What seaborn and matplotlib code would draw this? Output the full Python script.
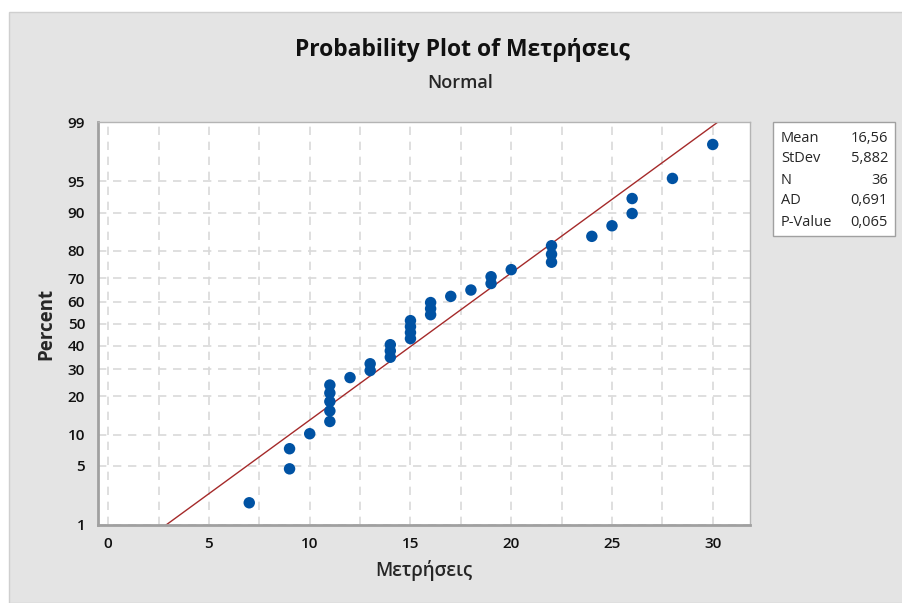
import seaborn as sns
import matplotlib.pyplot as plt
from matplotlib.patches import Rectangle
import pandas as pd
import numpy as np
from statistics import NormalDist

measurements = [7, 9, 9, 10, 11, 11, 11, 11, 11, 12, 13, 13, 14, 14, 14,
                15, 15, 15, 15, 16, 16, 16, 17, 18, 19, 19, 20,
                22, 22, 22, 24, 25, 26, 26, 28, 30]
percent_ticks = [1, 5, 10, 20, 30, 40, 50, 60, 70, 80, 90, 95, 99]
x_ticks = [0, 5, 10, 15, 20, 25, 30]
ad_value = "0,691"
p_value = "0,065"

nd = NormalDist()
n = len(measurements)
# median rank plotting positions
ranks = np.arange(1, n + 1)
probs = (ranks - 0.3) / (n + 0.4)
df = pd.DataFrame({"Μετρήσεις": measurements,
                   "z": [nd.inv_cdf(p) for p in probs]})

mean = np.mean(measurements)
sd = np.std(measurements, ddof=1)
z_lo, z_hi = nd.inv_cdf(0.01), nd.inv_cdf(0.99)
fit = pd.DataFrame({"x": [mean + sd * z_lo, mean + sd * z_hi], "z": [z_lo, z_hi]})

sns.set_style("white")
plt.rcParams['font.family'] = ['Open Sans', 'DejaVu Sans']

fig = plt.figure(figsize=(9.03, 6.03), dpi=100)
fig.patch.set_facecolor("white")
fig.patches.append(Rectangle((9 / 903, 0), 1, 1 - 12 / 603, transform=fig.transFigure,
                             facecolor="#e4e4e4", edgecolor="#cfcfcf", lw=1, zorder=-10))
ax = fig.add_axes([0.1082, 0.1294, 0.8306 - 0.1082, 0.7972 - 0.1294])
ax.set_facecolor("white")

# grid
for xv in np.arange(0, 31, 2.5):
    ax.axvline(xv, color="#d9d9d9", lw=1.2, ls=(0, (5, 4)), zorder=0)
for p in percent_ticks:
    ax.axhline(nd.inv_cdf(p / 100), color="#d9d9d9", lw=1.2, ls=(0, (5, 4)), zorder=0)

sns.lineplot(data=fit, x="x", y="z", color="#a52a2a", lw=1.0, ax=ax, zorder=2)
sns.scatterplot(data=df, x="Μετρήσεις", y="z", color="#0052a3", s=68,
                edgecolor="none", ax=ax, zorder=3)

ax.set_xlim(-0.52, 31.85)
ax.set_ylim(z_lo, z_hi)
ax.set_xticks(x_ticks)
ax.set_xticklabels([str(t) for t in x_ticks])
ax.set_yticks([nd.inv_cdf(p / 100) for p in percent_ticks])
ax.set_yticklabels([str(p) for p in percent_ticks])
ax.tick_params(axis="both", labelsize=11, colors="#a0a0a0", labelcolor="#111111",
               length=5, width=1, direction="out", pad=4)
for lab in ax.get_xticklabels() + ax.get_yticklabels():
    lab.set_fontweight("semibold")

for side in ["left", "bottom"]:
    ax.spines[side].set_color("#a0a0a0")
    ax.spines[side].set_linewidth(2)
for side in ["top", "right"]:
    ax.spines[side].set_color("#b4b4b4")
    ax.spines[side].set_linewidth(1)

ax.set_xlabel("Μετρήσεις", fontsize=13.5, fontweight="semibold", labelpad=6)
ax.set_ylabel("Percent", fontsize=13.5, fontweight="bold", labelpad=8)

fig.text(0.512, 0.917, "Probability Plot of Μετρήσεις", ha="center", va="center",
         fontsize=16.5, fontweight="bold", color="#111111")
fig.text(0.51, 0.862, "Normal", ha="center", va="center", fontsize=13, fontweight="semibold")

# statistics box
fig.patches.append(Rectangle((773 / 903, 1 - 236 / 603), 122 / 903, 114 / 603,
                             transform=fig.transFigure, facecolor="white",
                             edgecolor="#a0a0a0", lw=1, zorder=5))
rows = [("Mean", f"{mean:.2f}".replace(".", ",")),
        ("StDev", f"{sd:.3f}".replace(".", ",")),
        ("N", str(n)),
        ("AD", ad_value),
        ("P-Value", p_value)]
for i, (k, v) in enumerate(rows):
    y = 1 - (138 + 21 * i) / 603
    fig.text(781 / 903, y, k, ha="left", va="center", fontsize=10.5, zorder=6)
    fig.text(888 / 903, y, v, ha="right", va="center", fontsize=10.5, zorder=6)

plt.savefig("out.png", dpi=100)
